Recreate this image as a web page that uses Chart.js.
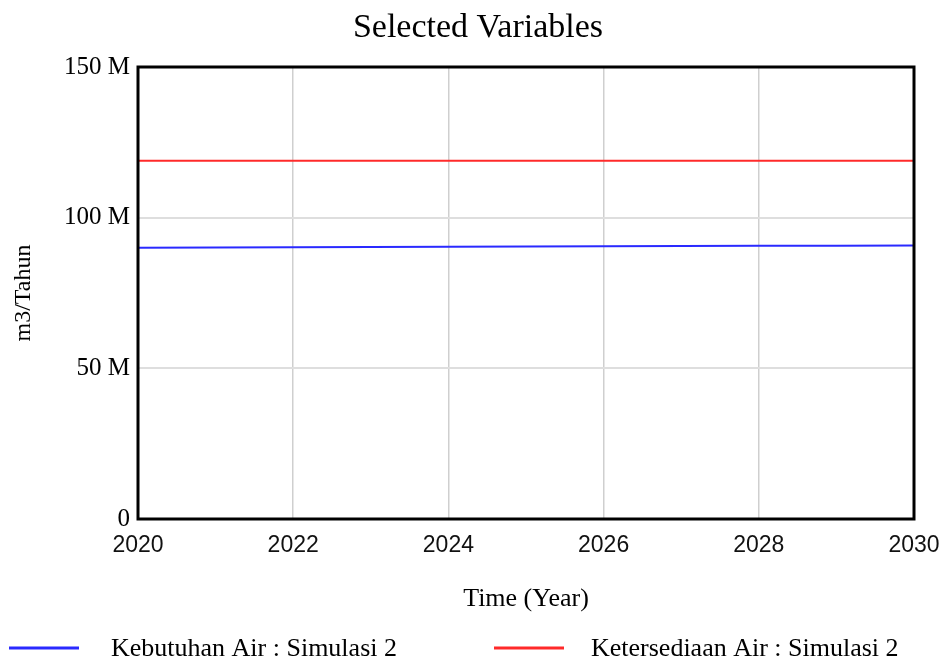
<!DOCTYPE html>
<html>
<head>
<meta charset="utf-8">
<title>Selected Variables</title>
<script src="https://cdn.jsdelivr.net/npm/chart.js@4/dist/chart.umd.min.js"></script>
<style>
  html, body { margin:0; padding:0; background:#fff; }
  #wrap { width:944px; height:666px; }
</style>
</head>
<body>
<div id="wrap"><canvas id="chart" width="944" height="666"></canvas></div>
<script>
// data (values in m3/Tahun)
const years      = [2020, 2021, 2022, 2023, 2024, 2025, 2026, 2027, 2028, 2029, 2030];
const kebutuhan  = [90.0e6, 90.08e6, 90.16e6, 90.24e6, 90.32e6, 90.4e6, 90.48e6, 90.56e6, 90.64e6, 90.72e6, 90.8e6];
const ketersedia = [118.9e6, 118.9e6, 118.9e6, 118.9e6, 118.9e6, 118.9e6, 118.9e6, 118.9e6, 118.9e6, 118.9e6, 118.9e6];
const seriesNames = ["Kebutuhan Air : Simulasi 2", "Ketersediaan Air : Simulasi 2"];
const xTicks = [2020, 2022, 2024, 2026, 2028, 2030];
const yTicks = [0, 50e6, 100e6, 150e6];

const SERIF = "'Liberation Serif', 'Times New Roman', serif";
const SANS  = "'Liberation Sans', Arial, sans-serif";

// title, frame and bottom legend (Vensim style)
const vensimDecor = {
  id: "vensimDecor",
  afterDraw(chart) {
    const {ctx, chartArea: a} = chart;
    ctx.save();
    // frame
    ctx.strokeStyle = "#000";
    ctx.lineWidth = 3;
    ctx.strokeRect(a.left, a.top, a.right - a.left, a.bottom - a.top);
    // title
    ctx.fillStyle = "#000";
    ctx.font = "34px " + SERIF;
    ctx.textAlign = "center";
    ctx.textBaseline = "middle";
    ctx.fillText("Selected Variables", 478, 28);
    // legend
    const items = [{x: 9, tx: 111}, {x: 494, tx: 591}];
    ctx.font = "26px " + SERIF;
    ctx.textAlign = "left";
    chart.data.datasets.forEach((ds, i) => {
      const it = items[i];
      ctx.strokeStyle = ds.borderColor;
      ctx.lineWidth = 3;
      ctx.beginPath();
      ctx.moveTo(it.x, 648);
      ctx.lineTo(it.x + 70, 648);
      ctx.stroke();
      ctx.fillStyle = "#000";
      ctx.fillText(ds.label, it.tx, 649);
    });
    ctx.restore();
  }
};

new Chart(document.getElementById("chart"), {
  type: "line",
  data: {
    datasets: [
      { label: seriesNames[0], data: years.map((y, i) => ({x: y, y: kebutuhan[i]})),
        borderColor: "#2a2aff", borderWidth: 2, pointRadius: 0, tension: 0, fill: false },
      { label: seriesNames[1], data: years.map((y, i) => ({x: y, y: ketersedia[i]})),
        borderColor: "#ff2a2a", borderWidth: 2, pointRadius: 0, tension: 0, fill: false },
    ],
  },
  options: {
    responsive: false,
    animation: false,
    layout: { padding: { top: 67, right: 30, bottom: 0, left: 0 } },
    plugins: { legend: { display: false }, tooltip: { enabled: false } },
    scales: {
      x: {
        type: "linear", min: 2020, max: 2030,
        afterBuildTicks: s => { s.ticks = xTicks.map(v => ({value: v})); },
        afterFit: s => { s.height = 147; s.paddingLeft = 0; s.paddingRight = 0; },
        ticks: { color: "#111", font: { family: SANS, size: 23 }, padding: 13,
                 callback: v => String(v), maxRotation: 0 },
        grid: { color: "#cfcfcf", lineWidth: 1.5, drawTicks: false },
        border: { display: false },
        title: { display: true, text: "Time (Year)", color: "#000",
                 font: { family: SERIF, size: 26 }, padding: { top: 0, bottom: 51 } },
      },
      y: {
        min: 0, max: 150e6,
        afterBuildTicks: s => { s.ticks = yTicks.map(v => ({value: v})); },
        afterFit: s => { s.width = 138; s.paddingTop = 0; s.paddingBottom = 0; },
        ticks: { color: "#000", font: { family: SERIF, size: 25 }, padding: 8,
                 callback: v => v === 0 ? "0" : (v / 1e6) + " M" },
        grid: { color: "#dedede", lineWidth: 2, drawTicks: false },
        border: { display: false },
        title: { display: true, text: "m3/Tahun", color: "#000",
                 font: { family: SERIF, size: 24 }, padding: { top: 9, bottom: 0 } },
      },
    },
  },
  plugins: [vensimDecor],
});
</script>
</body>
</html>
